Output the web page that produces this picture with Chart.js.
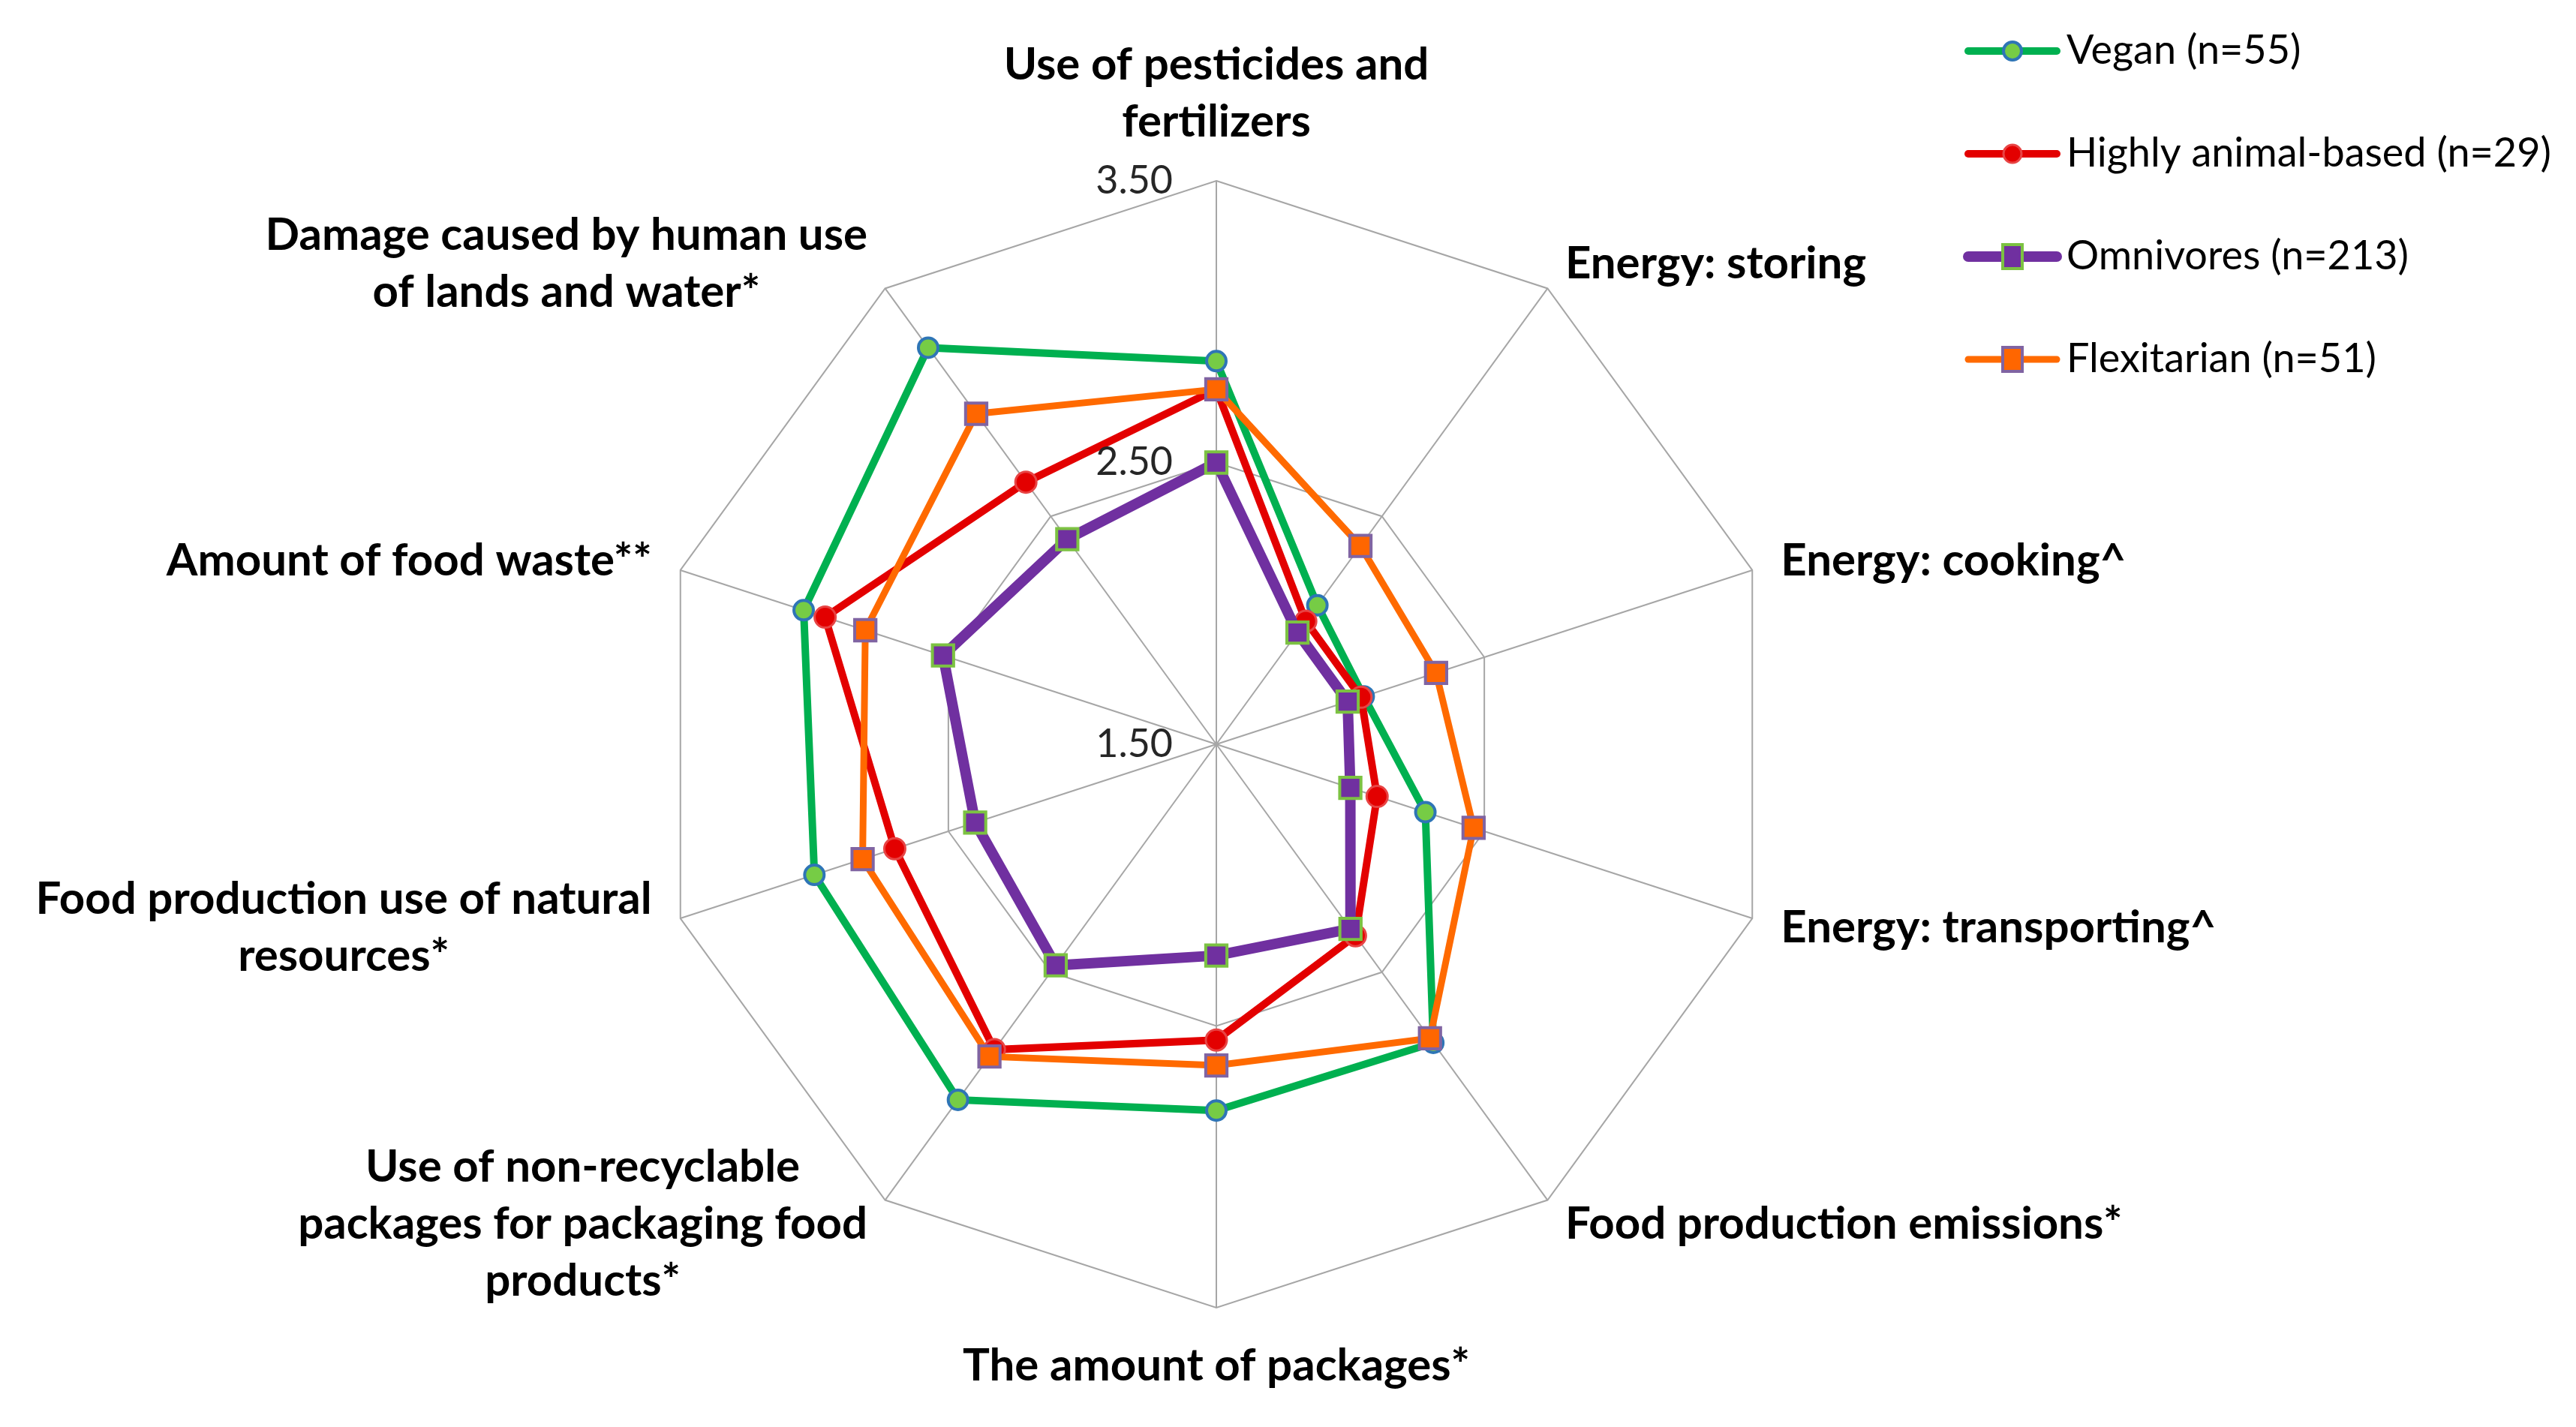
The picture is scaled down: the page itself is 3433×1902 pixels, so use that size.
<!DOCTYPE html>
<html>
<head>
<meta charset="utf-8">
<title>Environmental concerns by diet group</title>
<script src="https://cdn.jsdelivr.net/npm/chart.js@4.4.0/dist/chart.umd.min.js"></script>
<style>
  html, body { margin: 0; padding: 0; background: #fff; }
  #wrap { position: relative; width: 3433px; height: 1902px; }
</style>
</head>
<body>
<div id="wrap"><canvas id="radar"></canvas></div>
<script>
// spokes, clockwise from the top (inner arrays = line breaks)
const categories = [
  ['Use of pesticides and', 'fertilizers'],
  ['Energy: storing'],
  ['Energy: cooking^'],
  ['Energy: transporting^'],
  ['Food production emissions*'],
  ['The amount of packages*'],
  ['Use of non-recyclable', 'packages for packaging food', 'products*'],
  ['Food production use of natural', 'resources*'],
  ['Amount of food waste**'],
  ['Damage caused by human use', 'of lands and water*']
];

const seriesNames = ['Vegan (n=55)', 'Highly animal-based (n=29)', 'Omnivores (n=213)', 'Flexitarian (n=51)'];

const vegan       = [2.86, 2.11, 2.05, 2.28, 2.81, 2.80, 3.06, 3.00, 3.04, 3.24];
const animalBased = [2.76, 2.04, 2.04, 2.10, 2.34, 2.55, 2.84, 2.70, 2.96, 2.65];
const omnivores   = [2.50, 1.99, 1.99, 2.00, 2.31, 2.25, 2.47, 2.40, 2.52, 2.40];
const flexitarian = [2.76, 2.37, 2.32, 2.46, 2.79, 2.64, 2.87, 2.82, 2.81, 2.95];

const scaleMin = 1.5;
const scaleMax = 3.5;
const scaleStep = 1;

const FONT = 'Lato, "Open Sans", sans-serif';

// axis labels, tick numbers and legend, drawn excel-style
const extraText = {
  id: 'extraText',
  afterDraw(chart) {
    const r = chart.scales.r;
    const ctx = chart.ctx;
    ctx.save();

    // tick numbers sit left of the vertical spoke
    ctx.font = '52px ' + FONT;
    ctx.fillStyle = '#262626';
    ctx.textAlign = 'right';
    ctx.textBaseline = 'middle';
    r.ticks.forEach(t => {
      const y = r.yCenter - r.getDistanceFromCenterForValue(t.value);
      ctx.fillText(t.label, r.xCenter - 58, y);
    });

    // spoke labels, lines centred inside their block
    ctx.font = 'bold 60px ' + FONT;
    ctx.fillStyle = '#000';
    ctx.textAlign = 'center';
    const lh = 76;
    chart.data.labels.forEach((lab, i) => {
      const lines = [].concat(lab);
      const p = r.getPointPosition(i, r.drawingArea + 40);
      const deg = Math.round(r.getIndexAngle(i) * 180 / Math.PI) % 360;
      const w = Math.max(...lines.map(s => ctx.measureText(s).width));
      const h = lines.length * lh;
      let cx = p.x;
      let top = p.y - h / 2;
      if (deg === 0) top = p.y - h;
      else if (deg === 180) top = p.y;
      if (deg > 0 && deg < 180) cx = p.x + w / 2;
      else if (deg > 180) cx = p.x - w / 2;
      lines.forEach((s, k) => ctx.fillText(s, cx, top + lh * (k + 0.5)));
    });

    // legend, top right
    ctx.font = '54px ' + FONT;
    ctx.textAlign = 'left';
    chart.data.datasets.forEach((ds, i) => {
      const y = 68 + i * 137;
      const x0 = 2623, x1 = 2741, mx = 2682;
      ctx.strokeStyle = ds.borderColor;
      ctx.lineWidth = ds.borderWidth;
      ctx.lineCap = 'round';
      ctx.beginPath();
      ctx.moveTo(x0, y);
      ctx.lineTo(x1, y);
      ctx.stroke();
      ctx.fillStyle = ds.pointBackgroundColor;
      ctx.strokeStyle = ds.pointBorderColor;
      ctx.lineWidth = ds.pointBorderWidth;
      ctx.beginPath();
      if (ds.pointStyle === 'circle') {
        ctx.arc(mx, y, 12, 0, Math.PI * 2);
      } else {
        ctx.rect(mx - 13, y - 16, 26, 32);
      }
      ctx.fill();
      ctx.stroke();
      ctx.fillStyle = '#000';
      ctx.fillText(ds.label, 2754, y);
    });

    ctx.restore();
  }
};

const radarData = {
  labels: categories,
  datasets: [
    {
      label: seriesNames[0],
      data: vegan,
      order: 4,
      borderColor: '#00b050',
      borderWidth: 10,
      pointStyle: 'circle',
      pointRadius: 13,
      pointBackgroundColor: '#76cc45',
      pointBorderColor: '#2e75b6',
      pointBorderWidth: 4
    },
    {
      label: seriesNames[1],
      data: animalBased,
      order: 3,
      borderColor: '#e30000',
      borderWidth: 10,
      pointStyle: 'circle',
      pointRadius: 14,
      pointBackgroundColor: '#e30000',
      pointBorderColor: '#e84444',
      pointBorderWidth: 3
    },
    {
      label: seriesNames[2],
      data: omnivores,
      order: 2,
      borderColor: '#7030a0',
      borderWidth: 14,
      pointStyle: 'rect',
      pointRadius: 20,
      pointBackgroundColor: '#7030a0',
      pointBorderColor: '#7cc242',
      pointBorderWidth: 4
    },
    {
      label: seriesNames[3],
      data: flexitarian,
      order: 1,
      borderColor: '#ff6a00',
      borderWidth: 9,
      pointStyle: 'rect',
      pointRadius: 20,
      pointBackgroundColor: '#ff6600',
      pointBorderColor: '#8064a2',
      pointBorderWidth: 4
    }
  ]
};

const radarChart = {
  type: 'radar',
  data: radarData,
  options: {
    responsive: true,
    maintainAspectRatio: false,
    devicePixelRatio: 1,
    animation: false,
    layout: {
      padding: { left: 870, right: 1061, top: 241, bottom: 159 }
    },
    elements: {
      line: { fill: false, tension: 0 }
    },
    plugins: {
      legend: { display: false },
      tooltip: { enabled: false }
    },
    scales: {
      r: {
        min: scaleMin,
        max: scaleMax,
        ticks: {
          stepSize: scaleStep,
          display: false,
          callback: v => v.toFixed(2)
        },
        pointLabels: { display: false },
        grid: { color: '#a6a6a6', lineWidth: 2 },
        angleLines: { color: '#a6a6a6', lineWidth: 2 }
      }
    }
  },
  plugins: [extraText]
};

const myRadar = new Chart(document.getElementById('radar'), radarChart);
</script>
</body>
</html>
